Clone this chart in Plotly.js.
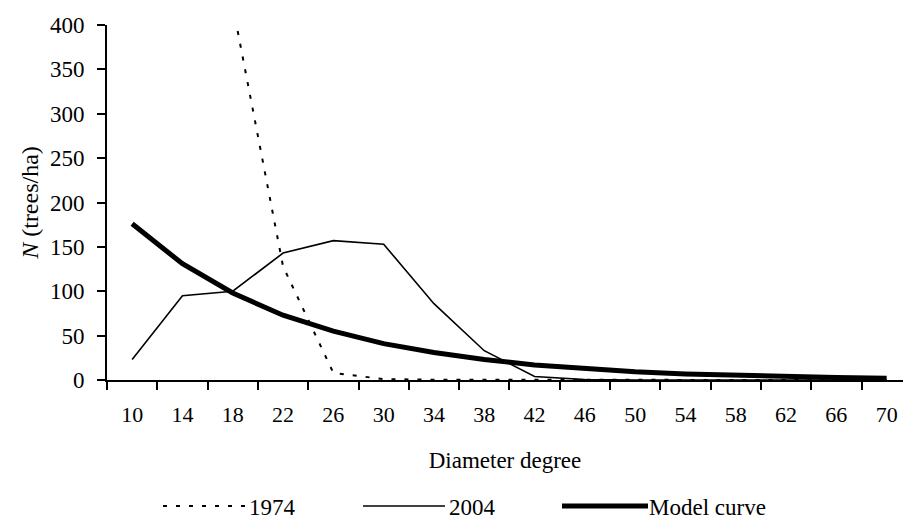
<!DOCTYPE html>
<html>
<head>
<meta charset="utf-8">
<script src="https://cdn.plot.ly/plotly-3.0.1.min.js"></script>
<style>
html,body{margin:0;padding:0;background:#fff;}
#chart{width:903px;height:520px;}
</style>
</head>
<body>
<div id="chart"></div>
<script>
// ---- data ----
var diameters = [10, 14, 18, 22, 26, 30, 34, 38, 42, 46, 50, 54, 58, 62, 66, 70];
var n1974 = [null, null, 422, 128, 8, 1, 0.3, 0.2, 0, 0, 0, 0, 0, 0, 0, 0];
var n2004 = [23, 95, 100, 143, 157, 153, 86, 33, 4, 0.5, 0, 0, 0, 0, 0, 0];
var nModel = [176, 131, 98, 73, 55, 41, 31, 23, 17, 12.5, 9.3, 6.9, 5.1, 3.8, 2.8, 2.1];
var seriesNames = ["1974", "2004", "Model curve"];
var yTicks = [0, 50, 100, 150, 200, 250, 300, 350, 400];

var cats = diameters.map(String);
var FONT = "'Liberation Serif', 'Times New Roman', Times, serif";

// layout geometry (pixels)
var W = 903, H = 520, L = 107, R = 0, T = 25, B = 140;
var pw = W - L - R, ph = H - T - B;
function px(x) { return (x - L) / pw; }
function py(y) { return (H - B - y) / ph; }

var styles = [
  {color: "#000", width: 2, dash: "4px,9px"},
  {color: "#000", width: 1.6, dash: "solid"},
  {color: "#000", width: 5, dash: "solid"}
];
var values = [n1974, n2004, nModel];

var traces = values.map(function (v, i) {
  return {
    type: "scatter", mode: "lines", x: cats, y: v, name: seriesNames[i],
    line: styles[i], connectgaps: false, hoverinfo: "x+y"
  };
});

// custom legend (long line samples like the reference)
var legY = 506;
var legItems = [
  {x0: 163, x1: 245, tx: 247},
  {x0: 363, x1: 445, tx: 447},
  {x0: 562, x1: 648, tx: 647}
];
var shapes = legItems.map(function (it, i) {
  return {
    type: "line", xref: "paper", yref: "paper",
    x0: px(it.x0), x1: px(it.x1), y0: py(legY), y1: py(legY),
    line: {color: styles[i].color, width: styles[i].width, dash: styles[i].dash}
  };
});
var annotations = legItems.map(function (it, i) {
  return {
    xref: "paper", yref: "paper", x: px(it.tx), y: py(legY + 1),
    xanchor: "left", yanchor: "middle", text: seriesNames[i], showarrow: false,
    font: {family: FONT, size: 23, color: "#000"}
  };
});

var layout = {
  width: W, height: H,
  margin: {l: L, r: R, t: T, b: B, pad: 0},
  paper_bgcolor: "#fff", plot_bgcolor: "#fff",
  showlegend: false,
  font: {family: FONT, size: 22, color: "#000"},
  xaxis: {
    type: "category",
    range: [-0.5, -0.5 + pw / 50.3],
    tickson: "boundaries",
    ticks: "outside", ticklen: 8, tickwidth: 2, tickcolor: "#000",
    showline: true, linecolor: "#000", linewidth: 2,
    showgrid: false, zeroline: false,
    tickfont: {family: FONT, size: 22, color: "#000"},
    ticklabelstandoff: 14,
    title: {text: "Diameter degree", font: {family: FONT, size: 23, color: "#000"}, standoff: 25},
    automargin: false, fixedrange: true
  },
  yaxis: {
    range: [0, 400],
    tickvals: yTicks,
    ticks: "outside", ticklen: 8, tickwidth: 2, tickcolor: "#000",
    showline: true, linecolor: "#000", linewidth: 2,
    showgrid: false, zeroline: false,
    tickfont: {family: FONT, size: 23, color: "#000"},
    ticklabelstandoff: 8,
    title: {text: "<i>N</i> (trees/ha)", font: {family: FONT, size: 24, color: "#000"}, standoff: 5},
    automargin: false, fixedrange: true
  },
  shapes: shapes,
  annotations: annotations
};

Plotly.newPlot("chart", traces, layout, {displayModeBar: false, staticPlot: true});
</script>
</body>
</html>
